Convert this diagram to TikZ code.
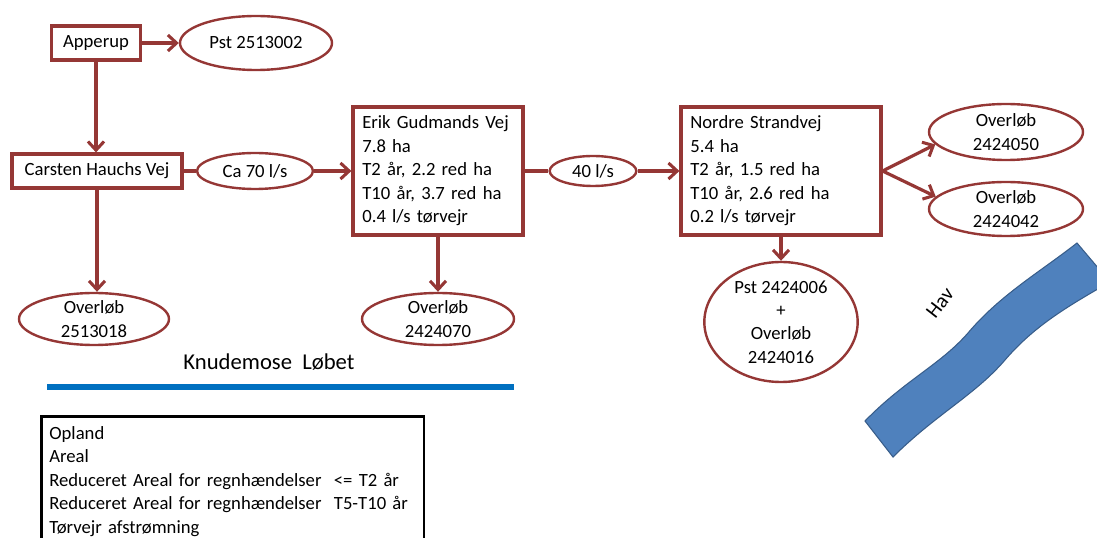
\documentclass[tikz,border=0pt]{standalone}
\usepackage{fontspec}
\setmainfont{Carlito}
\usetikzlibrary{shapes.geometric,arrows.meta}

\definecolor{pipered}{RGB}{149,55,53}
\definecolor{aablue}{RGB}{0,112,192}
\definecolor{havfill}{RGB}{79,129,189}
\definecolor{havline}{RGB}{56,93,138}

\tikzset{every picture/.style={line width=0.75pt},
	txt/.style={font=\fontsize{14}{17.6}\selectfont},
	wellbox/.style={txt, draw=pipered, line width=2.4pt, fill=white, inner sep=0pt},
	infobox/.style={wellbox, align=left, text width=#1, inner xsep=7pt, minimum height=96pt},
	outlet/.style={txt, ellipse, draw=pipered, line width=1.8pt, fill=white, inner sep=0pt, align=center},
	link/.style={draw=pipered, line width=2.4pt},
	flow/.style={link, -{Straight Barb[length=6.5pt,width=12pt,line width=2.3pt]}}}

\begin{document}
\begin{tikzpicture}[x=0.75pt,y=0.75pt,yscale=-1,xscale=1]
	\useasboundingbox (0,0) rectangle (1097,538);

	% Hav
	\fill [havfill, draw=havline, line width=0.8pt] (865,421) .. controls (905,380) and (940,365) .. (968,333) .. controls (1000,295) and (1040,272) .. (1077,243) -- (1110,282) .. controls (1070,305) and (1035,325) .. (1005,360) .. controls (975,395) and (935,415) .. (893,457) -- cycle ;
	\draw (940,303) node [txt, font=\fontsize{15.5}{18}\selectfont, rotate=52] (hav) {Hav};

	% Boxes
	\node [wellbox, minimum width=66.75pt, minimum height=25.5pt] (apperup) at (96,43) {Apperup};
	\node [wellbox, minimum width=127.5pt, minimum height=25.5pt] (carsten) at (97,171) {Carsten Hauchs Vej};
	\node [infobox=113.5pt] (erik) at (438,171) {Erik Gudmands Vej\\7.8 ha\\T2 år, 2.2 red ha\\T10 år, 3.7 red ha\\0.4 l/s tørvejr};
	\node [infobox=136pt] (nordre) at (781,171) {Nordre Strandvej\\5.4 ha\\T2 år, 1.5 red ha\\T10 år, 2.6 red ha\\0.2 l/s tørvejr};

	% Ellipses
	\node [outlet, minimum width=114pt, minimum height=40.5pt] (pst1) at (256,43) {Pst 2513002};
	\node [outlet, minimum width=87pt, minimum height=27pt] (ca70) at (255,171) {Ca 70 l/s};
	\node [outlet, minimum width=65pt, minimum height=22.5pt] (q40) at (593,171) {40 l/s};
	\node [outlet, minimum width=112.5pt, minimum height=39pt] (ov18) at (94,319) {Overløb\\2513018};
	\node [outlet, minimum width=114pt, minimum height=39pt] (ov70) at (438,319) {Overløb\\2424070};
	\node [outlet, minimum width=115.5pt, minimum height=42pt] (ov50) at (1006,132) {Overløb\\2424050};
	\node [outlet, minimum width=115.5pt, minimum height=40.5pt] (ov42) at (1006,209) {Overløb\\2424042};
	\node [outlet, minimum width=115pt, minimum height=90pt] (pst2) at (781,322) {Pst 2424006\\+\\Overløb\\2424016};

	% Connectors
	\draw [flow] (apperup.east) -- (pst1.west);
	\draw [flow] (apperup.south) -- (apperup.south |- carsten.north);
	\draw [link] (carsten.east) -- (ca70.west);
	\draw [flow] (ca70.east) -- (ca70.east -| erik.west);
	\draw [flow] (carsten.south) -- (carsten.south |- ov18.north);
	\draw [link] (erik.east) -- (q40.west);
	\draw [flow] (q40.east) -- (q40.east -| nordre.west);
	\draw [flow] (erik.south) -- (ov70.north);
	\draw [flow] (nordre.east) -- (ov50.190);
	\draw [flow] (nordre.east) -- (ov42.170);
	\draw [flow] (nordre.south) -- (pst2.north);

	% Knudemose Loebet
	\draw (269,362) node [txt, font=\fontsize{17}{19}\selectfont] (aa) {Knudemose\ \ Løbet};
	\draw [aablue, line width=4.5pt] (47,387) -- (514,387);

	% Legend
	\node [txt, draw=black, line width=2pt, anchor=north west, align=left, text width=275pt, inner xsep=6pt, inner ysep=7.5pt] (legend) at (40,415) {Opland\\Areal\\Reduceret Areal for regnhændelser\ \ <= T2 år\\Reduceret Areal for regnhændelser\ \ T5-T10 år\\Tørvejr afstrømning\\ \strut};

\end{tikzpicture}
\end{document}
